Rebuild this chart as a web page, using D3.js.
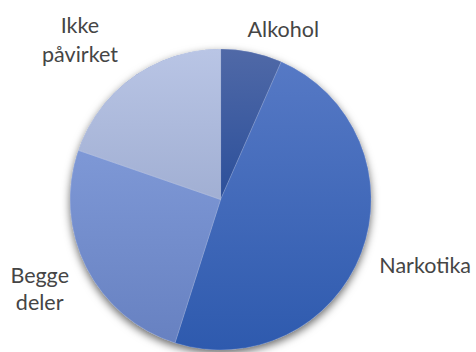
<!DOCTYPE html>
<html>
<head>
<meta charset="utf-8">
<script src="https://cdn.jsdelivr.net/npm/d3@7/dist/d3.min.js"></script>
<style>
  html, body { margin: 0; padding: 0; background: #fff; }
  svg { display: block; }
  text { font-family: Lato, "Open Sans", sans-serif; font-size: 21.5px; fill: #454545; }
</style>
</head>
<body>
<script>
// Slice data (share of cases, clockwise from 12 o'clock)
const categories = ["Alkohol", "Narkotika", "Begge deler", "Ikke påvirket"];
const values = [6.6, 48.3, 25.4, 19.7];
const labelLines = [["Alkohol"], ["Narkotika"], ["Begge", "deler"], ["Ikke", "påvirket"]];

// Fill gradients per slice: lighter at top, darker at bottom
const topColors = ["#5069a7", "#5679c5", "#7e98d6", "#b9c5e5"];
const bottomColors = ["#2b4f9a", "#2e5aae", "#6781c1", "#a1afd3"];

const W = 476, H = 352;
const cx = 220.6, cy = 199.5, R = 150.5;

// Label anchors (text-anchor, x, first baseline, line step)
const labelPos = [
  { anchor: "middle", x: 283.3, y: 36.7, step: 0 },
  { anchor: "start", x: 379.3, y: 272.7, step: 0 },
  { anchor: "middle", x: 39.7, y: 283, step: 27 },
  { anchor: "middle", x: 80, y: 32.5, step: 29 }
];

const svg = d3.select("body").append("svg").attr("width", W).attr("height", H);
const defs = svg.append("defs");

const shadow = defs.append("filter").attr("id", "pieShadow")
  .attr("x", "-20%").attr("y", "-20%").attr("width", "140%").attr("height", "140%");
shadow.append("feDropShadow")
  .attr("dx", 0).attr("dy", 3.5).attr("stdDeviation", 4)
  .attr("flood-color", "#000").attr("flood-opacity", 0.6);

categories.forEach((c, i) => {
  const g = defs.append("linearGradient").attr("id", "grad" + i)
    .attr("x1", 0).attr("y1", 0).attr("x2", 0).attr("y2", 1);
  g.append("stop").attr("offset", "0%").attr("stop-color", topColors[i]);
  g.append("stop").attr("offset", "100%").attr("stop-color", bottomColors[i]);
});

const pie = d3.pie().sort(null).value(d => d)(values);
const arc = d3.arc().innerRadius(0).outerRadius(R);

const pieG = svg.append("g").attr("transform", `translate(${cx},${cy})`);

// Shadow layer: full disc drawn behind slices
pieG.append("circle").attr("r", R).attr("fill", "#6f86c0").attr("filter", "url(#pieShadow)");

pieG.selectAll("path.slice").data(pie).join("path")
  .attr("class", "slice")
  .attr("d", arc)
  .attr("fill", (d, i) => `url(#grad${i})`)
  .attr("stroke", "rgba(255,255,255,0.28)")
  .attr("stroke-width", 0.6);

// Category labels
labelLines.forEach((lines, i) => {
  const p = labelPos[i];
  const t = svg.append("text").attr("text-anchor", p.anchor);
  lines.forEach((ln, j) => {
    t.append("tspan").attr("x", p.x).attr("y", p.y + j * p.step).text(ln);
  });
});
</script>
</body>
</html>
